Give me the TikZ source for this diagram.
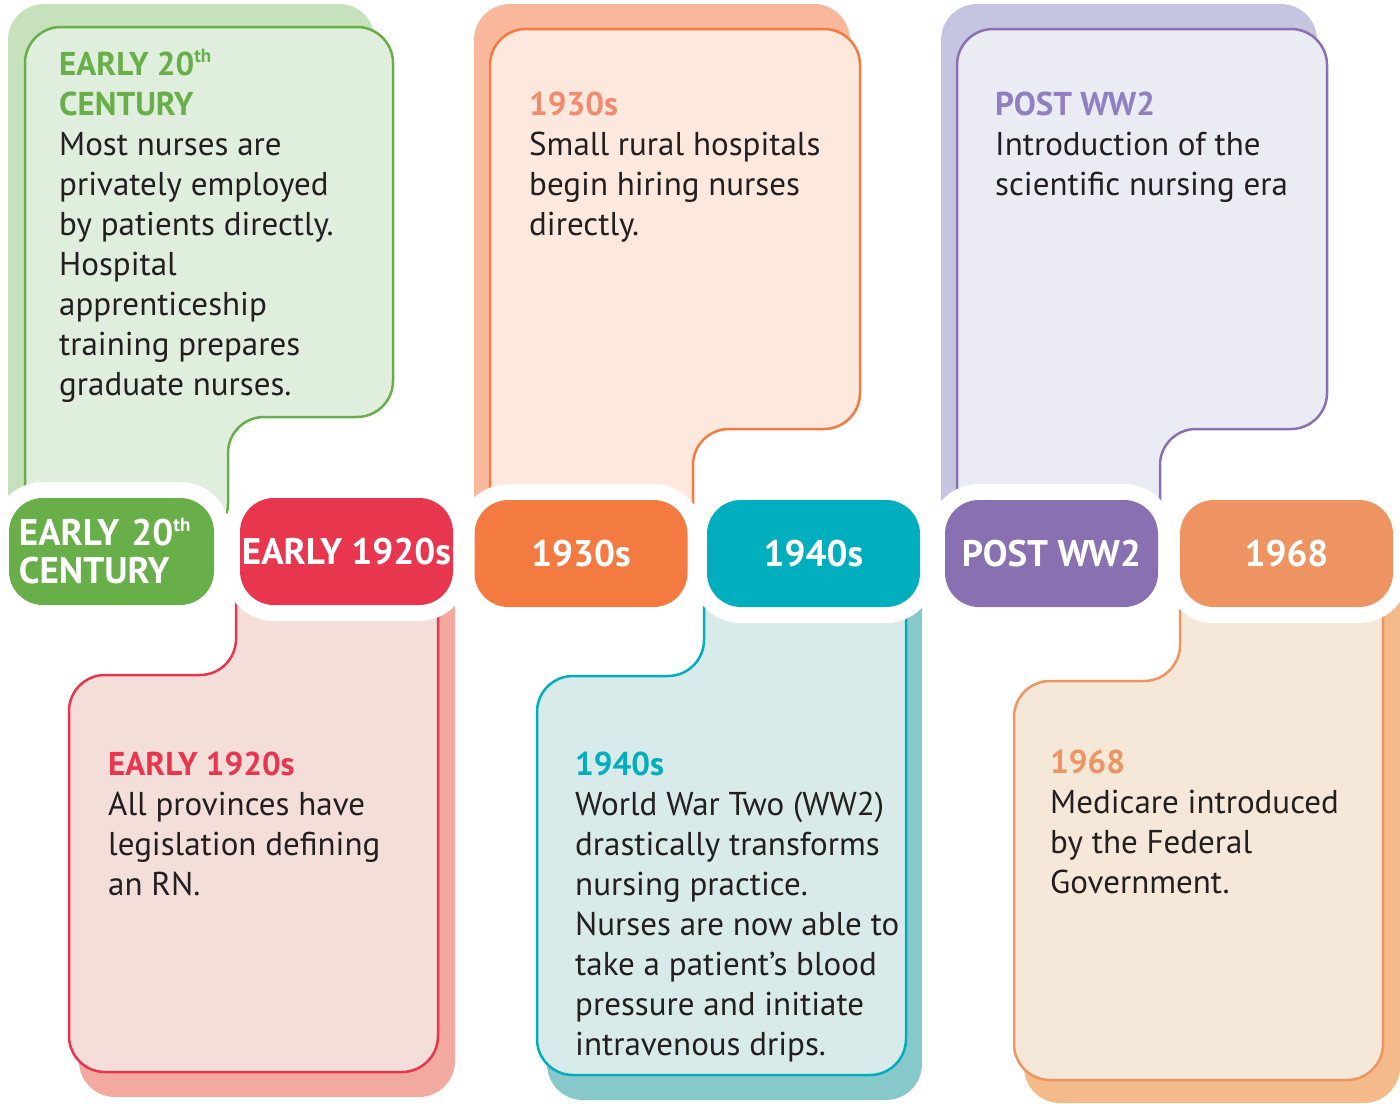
\documentclass[tikz,border=0pt]{standalone}
\usepackage{fontspec}
\setmainfont{PT Sans}
\definecolor{grnPill}{HTML}{68AE49}
\definecolor{grnFill}{HTML}{DFEEDD}
\definecolor{grnShd}{HTML}{C6E1BC}
\definecolor{redPill}{HTML}{E8364F}
\definecolor{redFill}{HTML}{F4DED9}
\definecolor{redShd}{HTML}{F2A99F}
\definecolor{orgPill}{HTML}{F37A41}
\definecolor{orgFill}{HTML}{FCE8DD}
\definecolor{orgShd}{HTML}{F9B89B}
\definecolor{orgHead}{HTML}{F28B6D}
\definecolor{tealPill}{HTML}{00AEBD}
\definecolor{tealFill}{HTML}{D9EAEA}
\definecolor{tealShd}{HTML}{87C9CB}
\definecolor{purPill}{HTML}{8970B1}
\definecolor{purFill}{HTML}{EBEBF4}
\definecolor{purShd}{HTML}{C6C5E1}
\definecolor{purHead}{HTML}{9180C0}
\definecolor{yrPill}{HTML}{EE9462}
\definecolor{yrFill}{HTML}{F5E8D9}
\definecolor{yrShd}{HTML}{F4BA8A}
\definecolor{txt}{HTML}{231F20}
\newcommand{\bodyfont}{\fontsize{33}{40}\selectfont}
\newcommand{\headfont}{\fontsize{33}{40}\selectfont\bfseries}
\newcommand{\pillfont}{\fontsize{37}{38}\selectfont\bfseries}
\newcommand{\thsup}{\raisebox{0.38em}{\fontsize{19}{19}\selectfont th}}

\begin{document}
\begin{tikzpicture}[x=1pt,y=-1pt,line join=round,
    box/.style={line width=2.5pt,rounded corners=36pt},
    shd/.style={rounded corners=36pt},
    pill/.style={rounded corners=34pt,minimum width=213pt,minimum height=107pt,inner sep=0pt,
        text=white,font=\pillfont,preaction={draw=white,line width=32pt}},
    body/.style={anchor=base west,inner sep=0pt,text=txt}]
    \useasboundingbox (0,0) rectangle (1400,1103);
    % shadows
    \fill[shd,grnShd] (8,540) -- (8,4) -- (375,4) -- (375,394) -- (211,394) -- (211,540) -- cycle;
    \fill[shd,orgShd] (474,540) -- (474,4) -- (850,4) -- (850,405) -- (677,405) -- (677,540) -- cycle;
    \fill[shd,purShd] (941,540) -- (941,4) -- (1317,4) -- (1317,405) -- (1144,405) -- (1144,540) -- cycle;
    \fill[shd,redShd] (455,560) -- (455,1097) -- (79,1097) -- (79,700) -- (253,700) -- (253,560) -- cycle;
    \fill[shd,tealShd] (922,560) -- (922,1100) -- (547,1100) -- (547,700) -- (720,700) -- (720,560) -- cycle;
    \fill[shd,yrShd] (1400,560) -- (1400,1103) -- (1024,1103) -- (1024,705) -- (1197,705) -- (1197,560) -- cycle;
    % callouts
    \filldraw[box,draw=grnPill,fill=grnFill] (25,540) -- (25,27) -- (393,27) -- (393,417) -- (228,417) -- (228,540) -- cycle;
    \filldraw[box,draw=orgPill,fill=orgFill] (490,540) -- (490,29) -- (860,29) -- (860,429) -- (693,429) -- (693,540) -- cycle;
    \filldraw[box,draw=purPill,fill=purFill] (957,540) -- (957,29) -- (1327,29) -- (1327,429) -- (1160,429) -- (1160,540) -- cycle;
    \filldraw[box,draw=redPill,fill=redFill] (438,560) -- (438,1072) -- (69,1072) -- (69,675) -- (236,675) -- (236,560) -- cycle;
    \filldraw[box,draw=tealPill,fill=tealFill] (906,560) -- (906,1075) -- (537,1075) -- (537,676) -- (704,676) -- (704,560) -- cycle;
    \filldraw[box,draw=yrPill,fill=yrFill] (1383,560) -- (1383,1080) -- (1014,1080) -- (1014,681) -- (1180,681) -- (1180,560) -- cycle;
    % timeline
    \node[pill,fill=grnPill,minimum width=205pt,text width=185pt,align=left] (p20c) at (111.5,551.5) {EARLY 20\thsup\\CENTURY};
    \node[pill,fill=redPill] (p1920) at (346.5,551.5) {EARLY 1920s};
    \node[pill,fill=orgPill] (p1930) at (581,553.5) {1930s};
    \node[pill,fill=tealPill] (p1940) at (813.5,553.5) {1940s};
    \node[pill,fill=purPill] (pww2) at (1051.5,553.5) {POST WW2};
    \node[pill,fill=yrPill] (p1968) at (1286.5,553.5) {1968};
    % texts
    \node[body] (t20c) at (59,75) {\parbox[t]{340pt}{\leavevmode\bodyfont\raggedright
        {\headfont\color{grnPill}EARLY 20\thsup\\CENTURY}\\
        Most nurses are\\privately employed\\by patients directly.\\Hospital\\apprenticeship\\training prepares\\graduate nurses.}};
    \node[body] (t1930) at (529,115) {\parbox[t]{340pt}{\leavevmode\bodyfont\raggedright
        {\headfont\color{orgHead}1930s}\\
        Small rural hospitals\\begin hiring nurses\\directly.}};
    \node[body] (tww2) at (995,115) {\parbox[t]{340pt}{\leavevmode\bodyfont\raggedright
        {\headfont\color{purHead}POST WW2}\\
        Introduction of the\\scientific nursing era}};
    \node[body] (t1920) at (108,775) {\parbox[t]{340pt}{\leavevmode\bodyfont\raggedright
        {\headfont\color{redPill}EARLY 1920s}\\
        All provinces have\\legislation defining\\an RN.}};
    \node[body] (t1940) at (575,775) {\parbox[t]{340pt}{\leavevmode\bodyfont\raggedright
        {\headfont\color{tealPill}1940s}\\
        World War Two (WW2)\\drastically transforms\\nursing practice.\\Nurses are now able to\\take a patient's blood\\pressure and initiate\\intravenous drips.}};
    \node[body] (t1968) at (1050,773) {\parbox[t]{340pt}{\leavevmode\bodyfont\raggedright
        {\headfont\color{yrPill}1968}\\
        Medicare introduced\\by the Federal\\Government.}};
\end{tikzpicture}
\end{document}
